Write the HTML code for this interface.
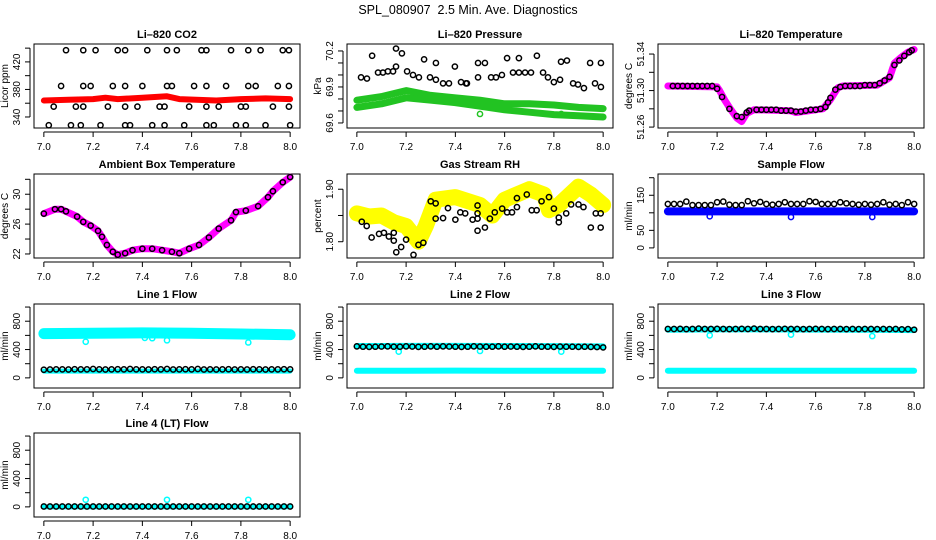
<!DOCTYPE html>
<html><head><meta charset="utf-8">
<style>
html,body{margin:0;padding:0;background:#fff;}
svg{display:block;font-family:"Liberation Sans",Arial,sans-serif;}
</style></head>
<body>
<svg id="chart" width="936" height="540" viewBox="0 0 936 540">
<text x="468" y="14" text-anchor="middle" font-size="12.5" style="white-space:pre" xml:space="preserve">SPL_080907  2.5 Min. Ave. Diagnostics</text>
</svg>
<script>
// ---- shared time arrays ----
const ft = [7.00,7.025,7.05,7.075,7.10,7.125,7.15,7.175,7.20,7.225,7.25,7.275,7.30,7.325,7.35,7.375,7.40,7.425,7.45,7.475,7.50,7.525,7.55,7.575,7.60,7.625,7.65,7.675,7.70,7.725,7.75,7.775,7.80,7.825,7.85,7.875,7.90,7.925,7.95,7.975,8.00];
const xTicks = [7.0,7.2,7.4,7.6,7.8,8.0];
const xTickLabels = ["7.0","7.2","7.4","7.6","7.8","8.0"];
const outT = [7.17,7.50,7.83];

// ---- CO2 ----
const co2BandT = [7.0,7.1,7.2,7.25,7.3,7.4,7.5,7.55,7.7,7.8,7.9,8.0];
const co2BandV = [364,365,366,368,366,368,370,366,364,366,367,366];
const co2T = [7.09,7.16,7.21,7.30,7.33,7.42,7.50,7.54,7.64,7.66,7.76,7.83,7.88,7.97,7.995,
 7.07,7.16,7.19,7.28,7.33,7.40,7.50,7.52,7.61,7.66,7.74,7.83,7.86,7.95,7.995,
 7.04,7.13,7.16,7.26,7.33,7.38,7.47,7.49,7.59,7.66,7.71,7.80,7.82,7.93,7.995,
 7.02,7.11,7.15,7.23,7.33,7.35,7.44,7.49,7.57,7.66,7.69,7.78,7.82,7.90,8.00];
const co2V = [437,437,437,437,437,437,437,437,437,437,437,437,437,437,437,
 385,385,385,385,385,385,385,385,385,385,385,385,385,385,385,
 355,355,355,355,355,355,355,355,355,355,355,355,355,355,355,
 328,328,328,328,328,328,328,328,328,328,328,328,328,328,328];

// ---- Pressure ----
const pBandT = [7.0,7.1,7.2,7.3,7.4,7.5,7.6,7.7,7.8,7.9,8.0];
const pUpperV = [69.79,69.82,69.87,69.83,69.81,69.79,69.76,69.76,69.75,69.73,69.72];
const pLowerV = [69.73,69.76,69.81,69.79,69.77,69.74,69.71,69.69,69.67,69.66,69.65];
const pOutT = [7.50,7.83];
const pOutV = [69.675,69.675];
const pT = [7.017,7.041,7.062,7.086,7.106,7.126,7.147,7.159,7.159,7.183,7.204,7.228,7.252,7.273,7.297,7.321,7.321,7.35,7.374,7.398,7.423,7.443,7.447,7.492,7.52,7.492,7.545,7.565,7.589,7.61,7.634,7.658,7.658,7.683,7.707,7.731,7.756,7.776,7.8,7.825,7.829,7.853,7.878,7.898,7.922,7.947,7.967,7.991,7.991];
const pV = [69.98,69.97,70.16,70.02,70.02,70.03,70.03,70.22,70.07,70.18,70.03,70.0,69.98,70.13,69.98,70.1,69.96,69.93,69.93,70.07,69.94,69.93,69.93,70.1,70.1,69.98,69.98,69.98,70.0,70.14,70.02,70.14,70.02,70.02,70.02,70.16,70.02,69.98,69.94,69.96,70.11,70.12,69.93,69.92,69.89,70.1,69.93,70.1,69.9];

// ---- Li-820 Temperature ----
const tcT = [7.0,7.2,7.21,7.23,7.256,7.28,7.30,7.32,7.35,7.496,7.52,7.63,7.66,7.69,7.71,7.85,7.87,7.90,7.92,7.95,7.975,8.0];
const tcV = [51.305,51.304,51.300,51.290,51.279,51.270,51.266,51.275,51.279,51.278,51.276,51.280,51.290,51.303,51.305,51.306,51.309,51.314,51.330,51.337,51.342,51.345];
const tpT = [7.02,7.04,7.06,7.08,7.10,7.12,7.14,7.16,7.18,7.20,7.22,7.25,7.28,7.30,7.32,7.33,7.36,7.38,7.40,7.42,7.44,7.46,7.48,7.50,7.52,7.54,7.56,7.58,7.60,7.62,7.64,7.65,7.66,7.68,7.70,7.72,7.74,7.76,7.78,7.80,7.82,7.84,7.86,7.88,7.90,7.92,7.94,7.96,7.98,7.99];
const tpV = [51.305,51.305,51.305,51.305,51.305,51.305,51.305,51.305,51.305,51.302,51.293,51.280,51.272,51.271,51.276,51.278,51.279,51.279,51.279,51.279,51.279,51.278,51.278,51.278,51.277,51.277,51.278,51.279,51.279,51.280,51.282,51.287,51.292,51.301,51.304,51.305,51.305,51.305,51.305,51.306,51.306,51.306,51.308,51.311,51.315,51.328,51.333,51.338,51.342,51.344];

// ---- Ambient Box Temperature ----
const ambT = [7.0,7.045,7.07,7.09,7.135,7.16,7.19,7.22,7.236,7.256,7.28,7.30,7.33,7.36,7.40,7.44,7.48,7.52,7.55,7.59,7.63,7.67,7.71,7.76,7.78,7.82,7.87,7.91,7.93,7.97,8.0];
const ambV = [27.4,28.0,28.0,27.7,27.0,26.3,25.8,25.1,24.3,23.2,22.3,21.9,22.1,22.5,22.7,22.7,22.5,22.3,22.1,22.7,23.2,24.2,25.4,26.5,27.6,27.8,28.4,29.6,30.4,31.6,32.3];

// ---- Gas Stream RH ----
const rhBandT = [7.0,7.05,7.1,7.15,7.2,7.25,7.28,7.32,7.4,7.5,7.55,7.6,7.7,7.76,7.78,7.82,7.9,7.95,8.0];
const rhBandV = [1.854,1.848,1.850,1.837,1.830,1.800,1.830,1.880,1.885,1.870,1.850,1.880,1.900,1.890,1.860,1.870,1.905,1.890,1.870];
const rhT = [7.02,7.04,7.06,7.09,7.11,7.13,7.15,7.15,7.16,7.18,7.20,7.23,7.25,7.27,7.30,7.32,7.32,7.35,7.37,7.40,7.42,7.44,7.47,7.49,7.49,7.49,7.49,7.52,7.54,7.56,7.59,7.61,7.63,7.65,7.65,7.69,7.71,7.73,7.75,7.78,7.80,7.82,7.82,7.85,7.87,7.90,7.92,7.95,7.97,7.99,7.99];
const rhV = [1.838,1.830,1.808,1.815,1.817,1.810,1.802,1.817,1.780,1.790,1.804,1.775,1.794,1.798,1.877,1.873,1.844,1.845,1.864,1.842,1.856,1.854,1.842,1.869,1.844,1.854,1.821,1.827,1.844,1.856,1.863,1.856,1.856,1.883,1.866,1.890,1.860,1.860,1.877,1.885,1.863,1.846,1.837,1.854,1.871,1.871,1.866,1.827,1.854,1.854,1.827];

// ---- Sample Flow ----
const sfBandT = [7.0,8.0];
const sfBandV = [104,104];
const sfOutV = [90,88,88];
const sfV = [125,125,125,132,122,122,122,122,130,132,123,122,122,133,127,131,125,123,125,130,125,125,125,133,131,125,125,125,130,127,125,123,125,123,125,130,123,125,122,130,125];

// ---- Line flows ----
const l1BandT = [7.0,7.2,7.4,7.6,7.8,8.0];
const l1BandV = [625,630,635,630,620,610];
const l1LowV = [95,95,95,95,95,95];
const l1OutT = [7.17,7.41,7.44,7.50,7.83];
const l1OutV = [510,565,560,530,500];
const l1V = [115,118,120,120,118,122,120,120,125,120,118,120,122,120,125,120,120,118,122,120,125,118,120,122,120,125,118,120,118,120,122,118,120,118,122,120,118,120,120,122,120];
const l2BandV = [450,452,452,450,448,445];
const l2LowV = [100,100,102,100,100,100];
const l2OutV = [370,380,370];
const l2V = [445,440,438,440,442,445,440,440,445,442,438,440,445,440,445,442,440,438,440,445,442,440,440,445,440,442,440,438,440,445,440,440,438,442,440,440,438,440,438,435,430];
const l3BandV = [680,685,685,682,680,675];
const l3LowV = [100,100,100,100,100,100];
const l3OutV = [600,610,590];
const l3V = [690,690,692,688,690,695,690,690,692,690,688,690,692,690,695,690,690,688,690,692,690,690,688,690,692,690,688,690,690,688,690,688,690,690,688,690,688,690,685,688,680];
const l4BandV = [0,0,0,0,0,0];
const l4OutV = [100,100,100];
const l4V = [5,5,5,5,5,5,5,5,5,5,5,5,5,5,5,5,5,5,5,5,5,5,5,5,5,5,5,5,5,5,5,5,5,5,5,5,5,5,5,5,5];

const NS = "http://www.w3.org/2000/svg";
const svg = document.getElementById('chart');
const colX = [34,347,658], rowY = [44,174,304,433], PW = 266, PH = 84;

function mk(tag, attrs, parent){
  const e = document.createElementNS(NS, tag);
  for (const k in attrs) e.setAttribute(k, attrs[k]);
  (parent||svg).appendChild(e);
  return e;
}

function panel(name, title, ylab, col, row, ylo, yhi, yTicks, yLabels){
  const g = mk('g', {});
  
  
  const x0 = colX[col], y0 = rowY[row];
  const sx = t => x0 + (t - 6.96) / 1.08 * PW;
  const sy = v => y0 + PH - (v - ylo) / (yhi - ylo) * PH;
  const tt = mk('text', {x: x0 + PW/2, y: y0 - 6, 'text-anchor':'middle', 'font-size':'11', 'font-weight':'bold'}, g);
  tt.textContent = title;
  
  
  const box = mk('rect', {x:x0, y:y0, width:PW, height:PH, fill:'none', stroke:'#000', 'stroke-width':1}, g);
  
  
  const xa = mk('g', {}, g);
  
  
  mk('line', {x1:sx(xTicks[0]), x2:sx(xTicks[xTicks.length-1]), y1:y0+PH+4, y2:y0+PH+4, stroke:'#000'}, xa);
  xTicks.forEach((t,i) => {
    mk('line', {x1:sx(t), x2:sx(t), y1:y0+PH+4, y2:y0+PH+9, stroke:'#000'}, xa);
    const l = mk('text', {x:sx(t), y:y0+PH+22, 'text-anchor':'middle', 'font-size':'10'}, xa);
    l.textContent = xTickLabels[i];
  });
  const ya = mk('g', {}, g);
  
  
  mk('line', {x1:x0-4, x2:x0-4, y1:sy(yTicks[0]), y2:sy(yTicks[yTicks.length-1]), stroke:'#000'}, ya);
  yTicks.forEach(v => mk('line', {x1:x0-9, x2:x0-4, y1:sy(v), y2:sy(v), stroke:'#000'}, ya));
  yLabels.forEach(v => {
    const y = sy(parseFloat(v));
    const l = mk('text', {x:x0-14, y:y, 'text-anchor':'middle', 'font-size':'10', transform:`rotate(-90 ${x0-14} ${y})`}, ya);
    l.textContent = v;
  });
  const yt = mk('text', {x:x0-26, y:y0+PH/2, 'text-anchor':'middle', 'font-size':'10', transform:`rotate(-90 ${x0-26} ${y0+PH/2})`}, g);
  yt.textContent = ylab;
  
  
  return {g, sx, sy};
}

function band(p, ts, vs, color, w, name){
  const pts = ts.map((t,i) => p.sx(t).toFixed(1) + ',' + p.sy(vs[i]).toFixed(1)).join(' ');
  const e = mk('polyline', {points:pts, fill:'none', stroke:color, 'stroke-width':w, 'stroke-linejoin':'round', 'stroke-linecap':'round'}, p.g);
  
  
}
function pts(p, ts, vs, color, name){
  const gg = mk('g', {}, p.g);
  
  
  ts.forEach((t,i) => {
    const c = mk('circle', {cx:p.sx(t), cy:p.sy(vs[i]), r:2.6, fill:'none', stroke:color, 'stroke-width':1.5}, gg);
    
    
  });
}

let p;
p = panel('co2-panel','Li\u2013820 CO2','Licor ppm',0,0,324,446,[340,360,380,400,420,440],['340','380','420']);
band(p, co2BandT, co2BandV, '#ff0000', 6, 'co2-band');
pts(p, co2T, co2V, '#000', 'co2-points');

p = panel('pressure-panel','Li\u2013820 Pressure','kPa',1,0,69.558,70.258,[69.6,69.7,69.8,69.9,70.0,70.1,70.2],['69.6','69.9','70.2']);
band(p, pBandT, pUpperV, '#22c322', 7, 'pressure-band-upper');
band(p, pBandT, pLowerV, '#22c322', 7, 'pressure-band-lower');
pts(p, pOutT, pOutV, '#22c322', 'pressure-outliers');
pts(p, pT, pV, '#000', 'pressure-points');

p = panel('li820-temp-panel','Li\u2013820 Temperature','degrees C',2,0,51.259,51.351,[51.26,51.28,51.30,51.32,51.34],['51.26','51.30','51.34']);
band(p, tcT, tcV, '#ff00ff', 7, 'temp-band');
pts(p, tpT, tpV, '#000', 'temp-points');

p = panel('ambient-panel','Ambient Box Temperature','degrees C',0,1,21.46,32.71,[22,24,26,28,30,32],['22','26','30']);
band(p, ambT, ambV, '#ff00ff', 7, 'ambient-band');
pts(p, ambT, ambV, '#000', 'ambient-points');

p = panel('rh-panel','Gas Stream RH','percent',1,1,1.769,1.929,[1.80,1.85,1.90],['1.80','1.90']);
band(p, rhBandT, rhBandV, '#ffff00', 16, 'rh-band');
pts(p, rhT, rhV, '#000', 'rh-points');

p = panel('sample-flow-panel','Sample Flow','ml/min',2,1,-28.8,210.6,[0,50,100,150,200],['0','50','150']);
band(p, sfBandT, sfBandV, '#0000ff', 8, 'sample-flow-band');
pts(p, outT, sfOutV, '#0000ff', 'sample-flow-outliers');
pts(p, ft, sfV, '#000', 'sample-flow-points');

const fTicks = [0,200,400,600,800,1000], fLabels = ['0','400','800'];
p = panel('line1-panel','Line 1 Flow','ml/min',0,2,-143,1043,fTicks,fLabels);
band(p, l1BandT, l1BandV, '#00ffff', 11, 'line1-band');
band(p, l1BandT, l1LowV, '#00ffff', 5, 'line1-low-band');
pts(p, l1OutT, l1OutV, '#00ffff', 'line1-outliers');
pts(p, ft, l1V, '#000', 'line1-points');

p = panel('line2-panel','Line 2 Flow','ml/min',1,2,-143,1043,fTicks,fLabels);
band(p, l1BandT, l2BandV, '#00ffff', 6, 'line2-band');
band(p, l1BandT, l2LowV, '#00ffff', 6, 'line2-low-band');
pts(p, outT, l2OutV, '#00ffff', 'line2-outliers');
pts(p, ft, l2V, '#000', 'line2-points');

p = panel('line3-panel','Line 3 Flow','ml/min',2,2,-143,1043,fTicks,fLabels);
band(p, l1BandT, l3BandV, '#00ffff', 6, 'line3-band');
band(p, l1BandT, l3LowV, '#00ffff', 6, 'line3-low-band');
pts(p, outT, l3OutV, '#00ffff', 'line3-outliers');
pts(p, ft, l3V, '#000', 'line3-points');

p = panel('line4-panel','Line 4 (LT) Flow','ml/min',0,3,-143,1043,fTicks,fLabels);
band(p, l1BandT, l4BandV, '#00ffff', 5, 'line4-band');
pts(p, outT, l4OutV, '#00ffff', 'line4-outliers');
pts(p, ft, l4V, '#000', 'line4-points');
</script>
</body></html>
